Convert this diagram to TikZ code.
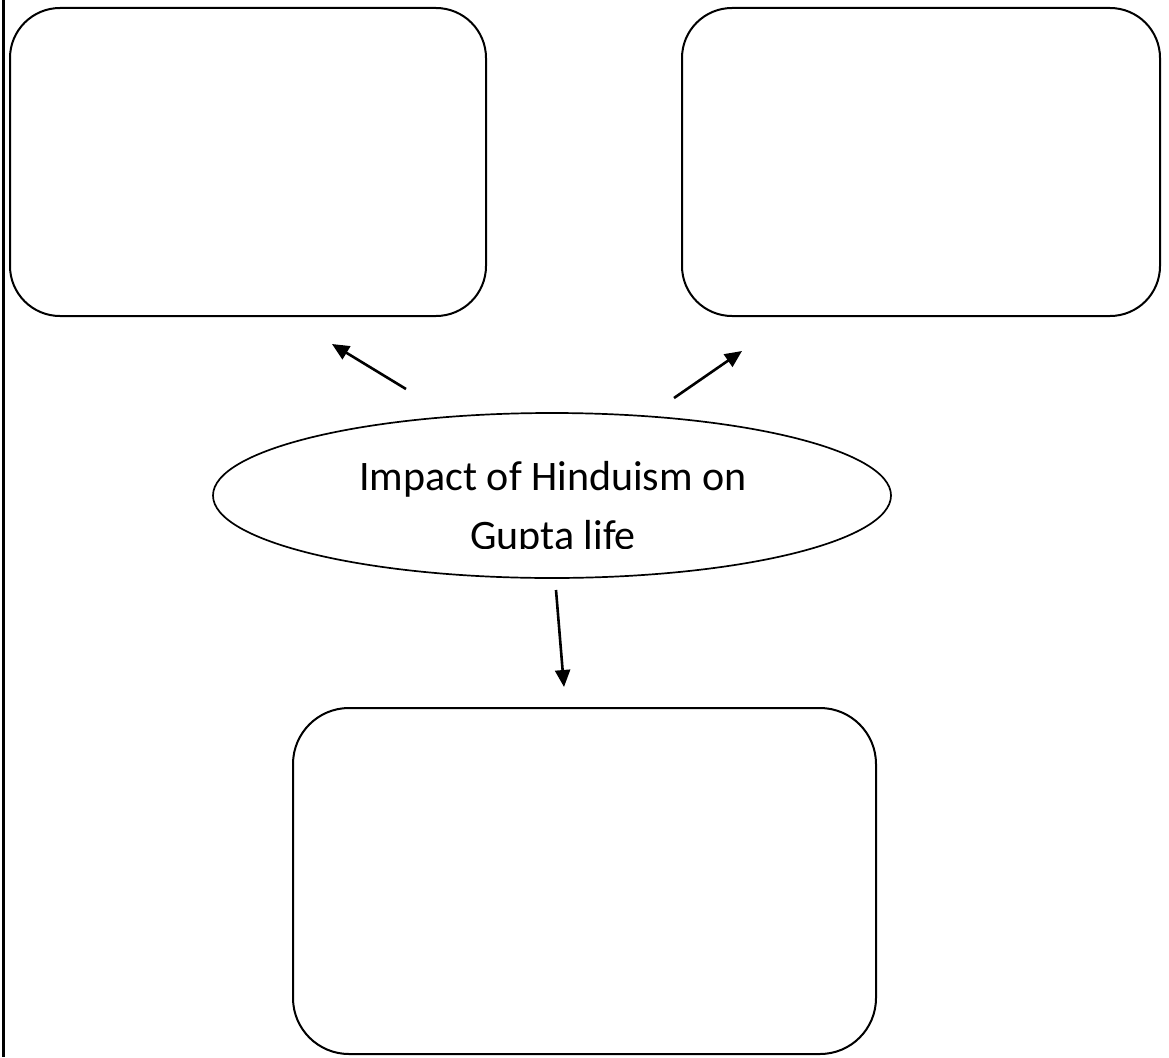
\documentclass[tikz,border=0pt]{standalone}
\usepackage{fontspec}
\setmainfont{Carlito}
\usetikzlibrary{arrows.meta,shapes.geometric}
\begin{document}
\begin{tikzpicture}[x=1pt,y=-1pt,
  box/.style={draw,line width=2pt,rounded corners=50pt},
  arr/.style={line width=2.6pt,-{Triangle[length=17pt,width=15pt]}},
  lbl/.style={font=\fontsize{42}{57}\selectfont,anchor=base,inner sep=0pt}]
\useasboundingbox (0,0) rectangle (1169,1057);
\draw[line width=2.4pt] (3.5,0) -- (3.5,1057);
\draw[box] (10,8) rectangle (486,316);
\node[inner sep=0pt] (tl) at (248,162) {};
\draw[box] (682,8) rectangle (1160,316);
\node[inner sep=0pt] (tr) at (921,162) {};
\draw[box,rounded corners=56pt] (293,708) rectangle (876,1054);
\node[inner sep=0pt] (bt) at (584,881) {};
\node[draw,ellipse,line width=1.7pt,minimum width=678pt,minimum height=165pt,inner sep=0pt] (ell) at (552,495.5) {};
\node[lbl] (t1) at (553,490) {Impact of Hinduism on};
\begin{scope}
\clip (300,500) rectangle (800,548);
\node[lbl] (t2) at (553,549) {Gupta life};
\end{scope}
\coordinate (a1s) at (406,389);
\coordinate (a1e) at (332,344);
\coordinate (a2s) at (674,398);
\coordinate (a2e) at (742,351);
\coordinate (a3s) at (556,590);
\coordinate (a3e) at (564,687);
\draw[arr] (a1s) -- (a1e);
\draw[arr] (a2s) -- (a2e);
\draw[arr] (a3s) -- (a3e);
\end{tikzpicture}
\end{document}
